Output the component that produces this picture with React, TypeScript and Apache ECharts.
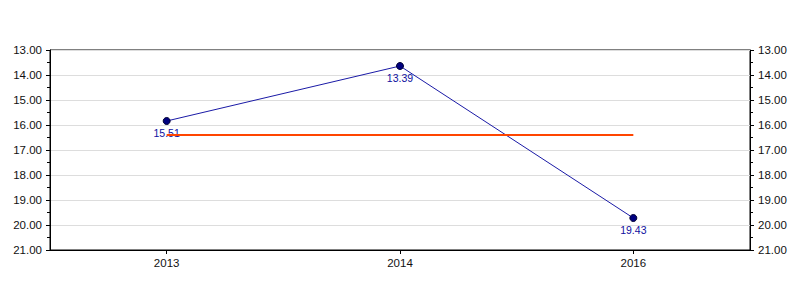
import React, { useEffect, useRef } from "react";
import * as echarts from "echarts";

const categories = ["2013", "2014", "2016"];
const values = [15.84, 13.64, 19.72];
const labelTexts = ["15.51", "13.39", "19.43"];
const yMin = 13;
const yMax = 21;
const yInterval = 1;

export default function App() {
  const ref = useRef<HTMLDivElement>(null);
  useEffect(() => {
    if (!ref.current) return;
    const chart = echarts.init(ref.current, null, { renderer: "svg" });
    const avg = values.reduce((a, b) => a + b, 0) / values.length;
    const yAxisBase = (pos: "left" | "right") => ({
      type: "value",
      position: pos,
      inverse: true,
      min: yMin,
      max: yMax,
      interval: yInterval,
      axisLine: { show: true, lineStyle: { color: "#000", width: 1 } },
      axisTick: { show: true, length: 4, lineStyle: { color: "#000" } },
      minorTick: { show: true, splitNumber: 2, length: 3, lineStyle: { color: "#000" } },
      axisLabel: {
        color: "#111",
        fontFamily: "Liberation Sans, Arial, sans-serif",
        fontSize: 11.5,
        margin: 8,
        formatter: (v: number) => v.toFixed(2),
      },
      splitLine: { show: pos === "left", lineStyle: { color: "#dddddd", width: 1 } },
    });
    chart.setOption({
      animation: false,
      backgroundColor: "#fff",
      grid: { left: 50, right: 50, top: 50, bottom: 50, show: true, borderColor: "#000", borderWidth: 1, backgroundColor: "transparent" },
      xAxis: {
        type: "category",
        data: categories,
        boundaryGap: true,
        axisLine: { show: true, lineStyle: { color: "#000" } },
        axisTick: { show: true, alignWithLabel: true, length: 4, lineStyle: { color: "#000" } },
        axisLabel: { color: "#111", fontFamily: "Liberation Sans, Arial, sans-serif", fontSize: 11.5, margin: 7 },
        splitLine: { show: false },
      },
      yAxis: [yAxisBase("left"), yAxisBase("right")],
      series: [
        {
          type: "line",
          data: values,
          yAxisIndex: 0,
          symbol: "circle",
          symbolSize: 7,
          itemStyle: { color: "#000080", borderColor: "#000033", borderWidth: 1 },
          lineStyle: { color: "#1a1aa6", width: 1 },
          label: {
            show: true,
            position: "bottom",
            distance: 2,
            color: "#0f0fa0",
            fontFamily: "Liberation Sans, Arial, sans-serif",
            fontSize: 10.5,
            formatter: (p: any) => labelTexts[p.dataIndex],
          },
          markLine: {
            silent: true,
            symbol: "none",
            label: { show: false },
            lineStyle: { color: "#ff4500", width: 2, type: "solid" },
            data: [[{ coord: [0, avg] }, { coord: [categories.length - 1, avg] }]],
          },
        },
      ],
    });
    return () => chart.dispose();
  }, []);
  return <div ref={ref} style={{ width: 800, height: 300, margin: -8 }} />;
}
